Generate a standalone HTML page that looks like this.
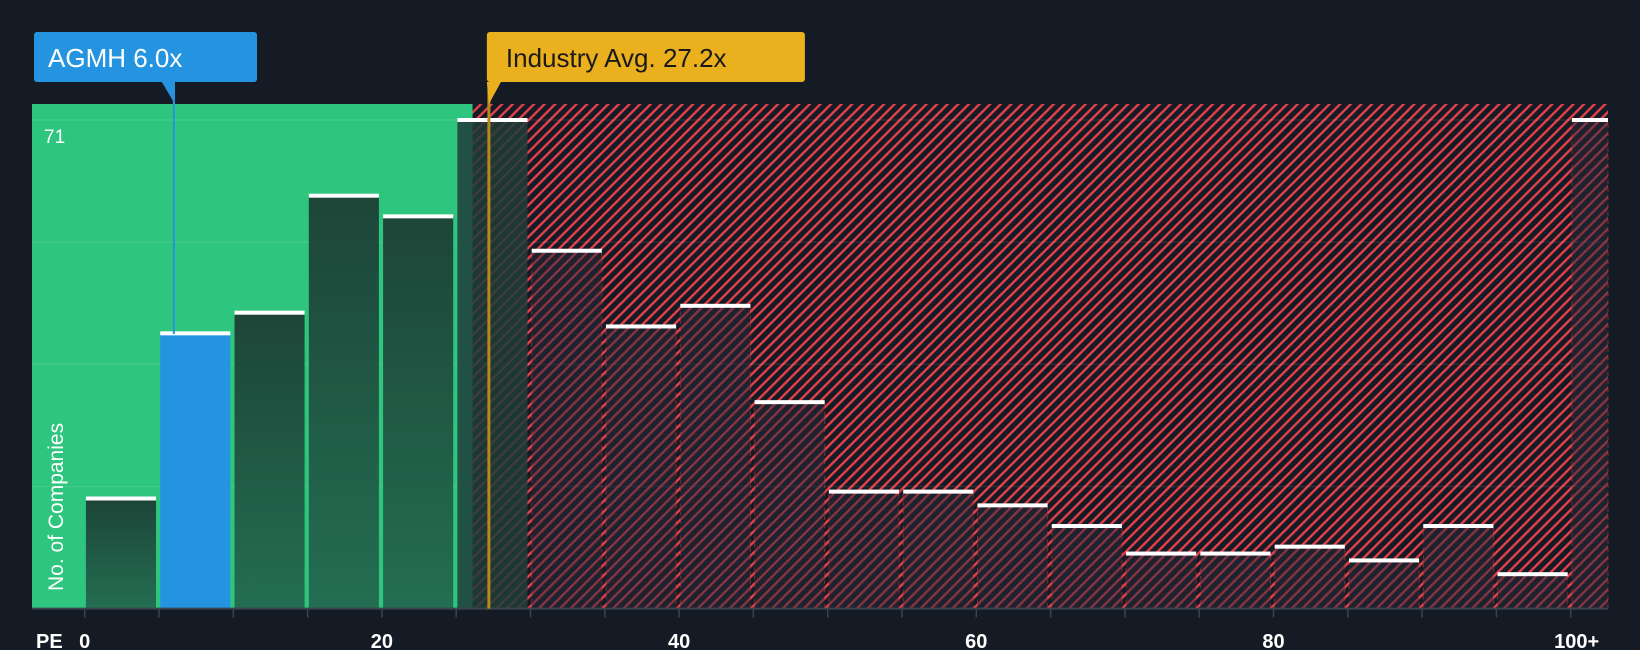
<!DOCTYPE html>
<html><head><meta charset="utf-8">
<style>
body{margin:0;background:#151b24;width:1640px;height:650px;overflow:hidden;font-family:"Liberation Sans",sans-serif}
svg{display:block}
.nar{font-family:"Liberation Sans Narrow","Liberation Sans",sans-serif}
</style></head>
<body>
<svg id="chart" width="1640" height="650" viewBox="0 0 1640 650">
<defs>
<pattern id="hatch" patternUnits="userSpaceOnUse" width="7.5" height="7.5" patternTransform="rotate(45)">
<rect width="7.5" height="7.5" fill="#151b24"/>
<rect x="0" y="0" width="2.4" height="7.5" fill="#e3404a"/>
</pattern>
<linearGradient id="gbar" x1="0" y1="0" x2="0" y2="1">
<stop offset="0" stop-color="#1d4538"/><stop offset="1" stop-color="#236e52"/>
</linearGradient>
</defs>
<g id="layer"></g>
</svg>
<script>
const binStarts=[0,5,10,15,20,25,30,35,40,45,50,55,60,65,70,75,80,85,90,95,100];
const counts=[16,40,43,60,57,71,52,41,44,30,17,17,15,12,8,8,9,7,12,5,71];
const xTicks=[0,20,40,60,80,"100+"];
const yMax=71;
const companyPE=6.0, industryPE=27.2, greenEnd=26.1;

const NS="http://www.w3.org/2000/svg";
const L=document.getElementById('layer');
const x0=84.7, ppu=14.86, base=608.6, yTopPx=120, plotL=32, plotR=1608, plotT=104;
const X=v=>x0+v*ppu;
const Y=v=>base-(v/yMax)*(base-yTopPx);
function mk(t,a,p){const el=document.createElementNS(NS,t);for(const k in a)el.setAttribute(k,a[k]);(p||L).appendChild(el);return el;}

let e;
e=mk('rect',{x:X(greenEnd),y:plotT,width:plotR-X(greenEnd),height:base-plotT,fill:'url(#hatch)'});


e=mk('rect',{x:plotL,y:plotT,width:X(greenEnd)-plotL,height:base-plotT,fill:'#2ec67e'});


for(let i=1;i<=4;i++){
  e=mk('line',{x1:plotL,x2:plotR,y1:Y(yMax*i/4),y2:Y(yMax*i/4),stroke:'rgba(255,255,255,0.08)','stroke-width':1.5});
  
  
}
binStarts.forEach((b,i)=>{
  const last=i===binStarts.length-1;
  const xa=X(b)+1.2, xb=last?plotR:X(b+5)-3;
  const yv=Y(counts[i]);
  const isCo=companyPE>=b&&companyPE<b+5;
  let fill=isCo?'#2494e0':(b<25?'url(#gbar)':'rgba(40,40,55,0.5)');
  if(b===25) fill='rgba(30,60,55,0.85)';
  e=mk('rect',{x:xa,y:yv,width:xb-xa,height:base-yv,fill:fill});
  
  
  if(b>=30){
    e=mk('rect',{x:xa,y:yv,width:xb-xa,height:base-yv,fill:'none',stroke:'rgba(224,57,62,0.5)','stroke-dasharray':'4 4','stroke-width':1});
    
    
  }
  e=mk('rect',{x:xa,y:yv-2,width:xb-xa,height:4,fill:'#ffffff'});
  
  
});
e=mk('line',{x1:plotL,x2:plotR,y1:base,y2:base,stroke:'#3a4350','stroke-width':2});


for(let v=0;v<=100;v+=5){
  e=mk('line',{x1:X(v),x2:X(v),y1:base,y2:base+9,stroke:'#3a4350','stroke-width':1.5});
  
  
}
xTicks.forEach((t)=>{
  const v=typeof t==='number'?t:100;
  e=mk('text',{x:X(v)+(typeof t==='number'?0:6),y:648,fill:'#ffffff','font-size':20,'text-anchor':'middle','font-weight':'bold',class:'nar'});
  e.textContent=t;
  
  
});
e=mk('text',{x:36,y:648,fill:'#fff','font-size':20,'font-weight':'bold',class:'nar'});e.textContent='PE';


e=mk('text',{x:44,y:143,fill:'#fff','font-size':19});e.textContent=String(yMax);


e=mk('text',{x:0,y:0,fill:'#fff','font-size':21,transform:'translate(63,591) rotate(-90)'});e.textContent='No. of Companies';



e=mk('line',{x1:X(industryPE),x2:X(industryPE),y1:82,y2:base,stroke:'#b8891a','stroke-width':3});


e=mk('polygon',{points:`${X(industryPE)-2},82 ${X(industryPE)+12},82 ${X(industryPE)},104`,fill:'#ebb01d'});


e=mk('rect',{x:X(industryPE)-2,y:32,width:318,height:50,rx:3,fill:'#ebb01d'});


e=mk('text',{x:X(industryPE)+17,y:67,fill:'#1a1a1a','font-size':26,class:'nar'});e.textContent='Industry Avg. 27.2x';



e=mk('line',{x1:X(companyPE),x2:X(companyPE),y1:82,y2:334,stroke:'#2494e0','stroke-width':2});


e=mk('polygon',{points:`${X(companyPE)-12},82 ${X(companyPE)+1},82 ${X(companyPE)+1},104`,fill:'#2494e0'});


e=mk('rect',{x:34,y:32,width:223,height:50,rx:3,fill:'#2494e0'});


e=mk('text',{x:48,y:67,fill:'#fff','font-size':26,class:'nar'});e.textContent='AGMH 6.0x';


</script>
</body></html>
